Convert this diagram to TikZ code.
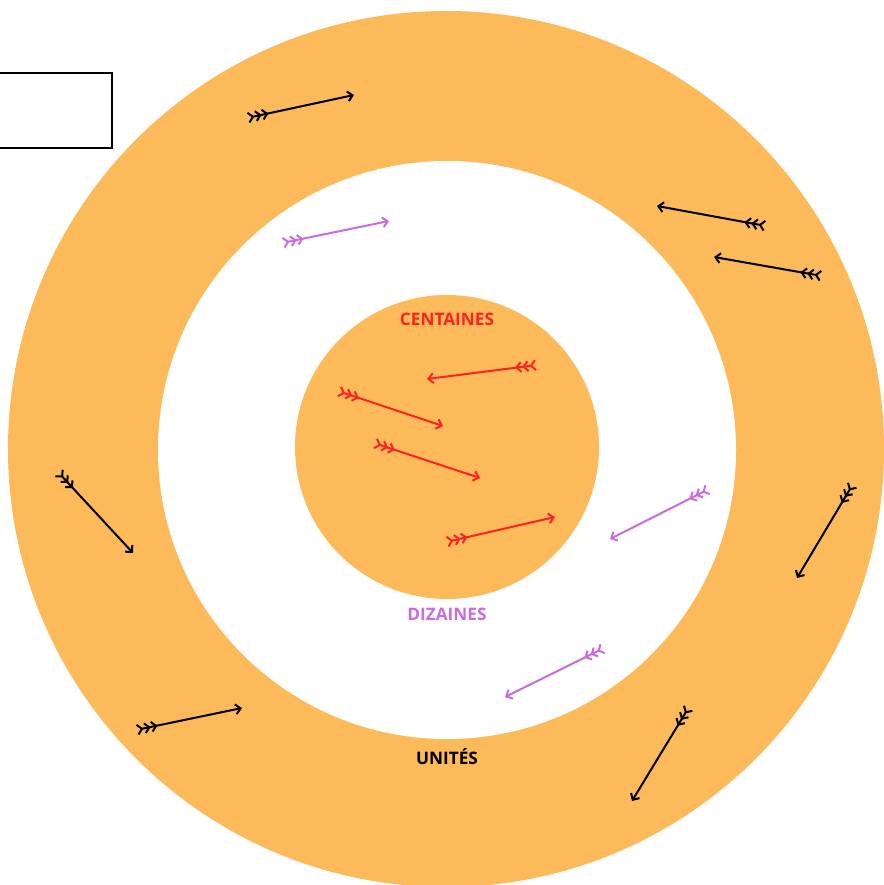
\documentclass[tikz,border=0pt]{standalone}
\usepackage{fontspec}
\setmainfont{Open Sans}
\usetikzlibrary{arrows.meta}

\definecolor{ringorange}{HTML}{FCBA5A}
\definecolor{dizviolet}{HTML}{C86DDF}
\definecolor{centred}{HTML}{FF2222}

\tikzset{
  feather/.style={line width=1.15pt, line cap=round,
    {Straight Barb[reversed,length=2.6pt,width=5.6pt,sep=0.3pt]Straight Barb[reversed,length=2.6pt,width=5.6pt,sep=0.3pt]Straight Barb[reversed,length=2.6pt,width=5.6pt]}-{Straight Barb[length=2.8pt,width=5.6pt]}},
  ringlabel/.style={font=\bfseries\fontsize{9.8}{11}\selectfont}
}

\begin{document}
\begin{tikzpicture}[x=0.02cm,y=-0.02cm]
        \useasboundingbox (0,0) rectangle (884,885);

        % rings
        \fill[ringorange] (446,449) circle (438);
        \fill[white] (447,450) circle (289);
        \fill[ringorange] (447,447) circle (152);

        % box in the corner
        \draw[line width=1.7pt, fill=white] (-10,73) rectangle (112,148);

        % labels
        \node[ringlabel, text=centred] (cent) at (447,319) {CENTAINES};
        \node[ringlabel, text=dizviolet] (diz) at (447,614) {DIZAINES};
        \node[ringlabel, text=black] (unit) at (447,757) {UNITÉS};

        % unites
        \foreach \a/\b/\c/\d in {247/118/354/95, 766/226/657/206, 822/276/714/257,
                                 58/472/133/553, 853/484/797/578, 136/730/242/708,
                                 689/707/632/801}
            \draw[feather, black] (\a,\b) -- (\c,\d);

        % dizaines
        \foreach \a/\b/\c/\d in {282/243/389/221, 709/489/610/539, 604/648/505/697}
            \draw[feather, dizviolet] (\a,\b) -- (\c,\d);

        % centaines
        \foreach \a/\b/\c/\d in {537/365/427/379, 338/391/443/426, 374/443/480/478,
                                 446/542/555/517}
            \draw[feather, centred] (\a,\b) -- (\c,\d);
\end{tikzpicture}
\end{document}
